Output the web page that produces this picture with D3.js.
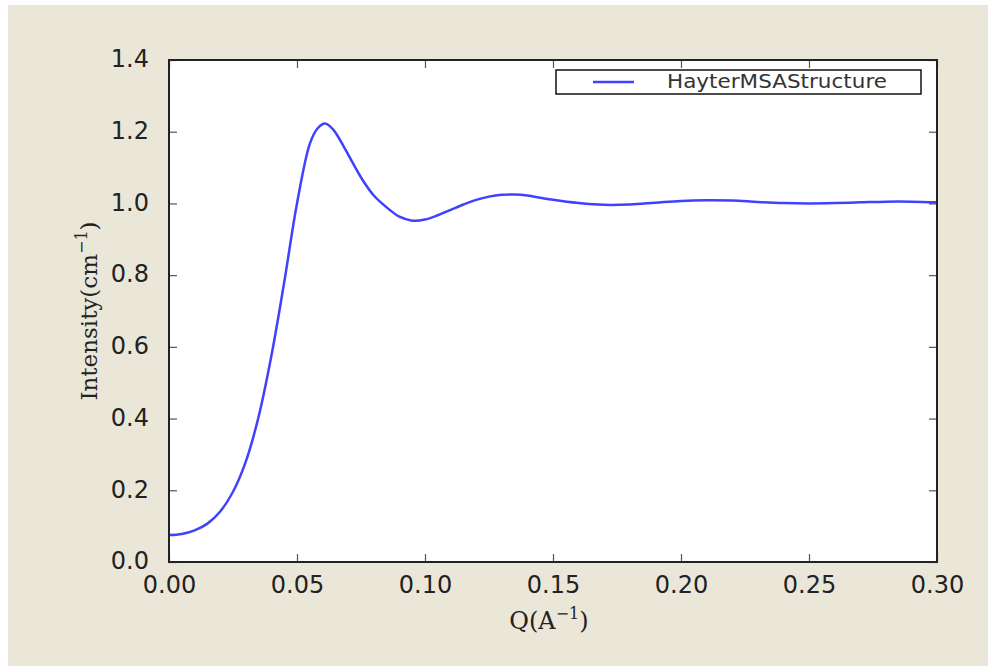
<!DOCTYPE html>
<html>
<head>
<meta charset="utf-8">
<script src="https://cdn.jsdelivr.net/npm/d3@7"></script>
<style>
  html, body { margin: 0; padding: 0; background: #ffffff; }
  svg { display: block; }
</style>
</head>
<body>
<svg id="chart" width="994" height="666"></svg>
<script>
const qValues = [0, 0.005, 0.010, 0.015, 0.020, 0.025, 0.030, 0.035, 0.040, 0.045, 0.050, 0.055, 0.058, 0.061, 0.064, 0.068, 0.072, 0.076, 0.080, 0.085, 0.090, 0.095, 0.100, 0.105, 0.110, 0.115, 0.120, 0.125, 0.130, 0.135, 0.140, 0.145, 0.150, 0.160, 0.170, 0.180, 0.190, 0.200, 0.210, 0.220, 0.230, 0.240, 0.250, 0.260, 0.270, 0.280, 0.290, 0.300];
const intensity = [0.075, 0.078, 0.088, 0.107, 0.141, 0.196, 0.280, 0.405, 0.575, 0.780, 1.000, 1.166, 1.209, 1.223, 1.207, 1.162, 1.110, 1.061, 1.022, 0.989, 0.963, 0.952, 0.955, 0.967, 0.982, 0.997, 1.010, 1.019, 1.024, 1.025, 1.022, 1.016, 1.010, 1.001, 0.996, 0.997, 1.002, 1.007, 1.009, 1.008, 1.004, 1.001, 1.000, 1.001, 1.003, 1.005, 1.005, 1.003];
const xTicks = [0, 0.05, 0.10, 0.15, 0.20, 0.25, 0.30];
const yTicks = [0, 0.2, 0.4, 0.6, 0.8, 1.0, 1.2, 1.4];
const seriesName = "HayterMSAStructure";

const svg = d3.select("#chart");
const plot = { left: 169, top: 60, right: 937, bottom: 562 };

// background
svg.append("rect").attr("x", 8).attr("y", 5).attr("width", 980).attr("height", 661).attr("fill", "#ebe7d8");
svg.append("rect").attr("x", plot.left).attr("y", plot.top)
  .attr("width", plot.right - plot.left).attr("height", plot.bottom - plot.top).attr("fill", "#ffffff");

const x = d3.scaleLinear().domain([0, 0.30]).range([plot.left, plot.right]);
const y = d3.scaleLinear().domain([0, 1.4]).range([plot.bottom, plot.top]);

const tickLen = 8;
const fontSans = "'DejaVu Sans', sans-serif";

const xAxisB = d3.axisBottom(x).tickValues(xTicks).tickFormat(d3.format(".2f")).tickSizeInner(-tickLen).tickSizeOuter(0).tickPadding(14);
const gxb = svg.append("g").attr("transform", `translate(0,${plot.bottom})`).call(xAxisB);
const xAxisT = d3.axisTop(x).tickValues(xTicks).tickFormat("").tickSizeInner(-tickLen).tickSizeOuter(0);
const gxt = svg.append("g").attr("transform", `translate(0,${plot.top})`).call(xAxisT);
const yAxisL = d3.axisLeft(y).tickValues(yTicks).tickFormat(d3.format(".1f")).tickSizeInner(-tickLen).tickSizeOuter(0).tickPadding(20);
const gyl = svg.append("g").attr("transform", `translate(${plot.left},0)`).call(yAxisL);
const yAxisR = d3.axisRight(y).tickValues(yTicks).tickFormat("").tickSizeInner(-tickLen).tickSizeOuter(0);
const gyr = svg.append("g").attr("transform", `translate(${plot.right},0)`).call(yAxisR);

[gxb, gxt, gyl, gyr].forEach(g => {
  g.select(".domain").remove();
  g.selectAll(".tick line").attr("stroke", "#555").attr("stroke-width", 1.2);
  g.selectAll(".tick text").attr("font-family", fontSans).attr("font-size", 24).attr("fill", "#222");
});
gyl.selectAll(".tick text").attr("dy", "0.28em");
gxb.selectAll(".tick text").attr("dy", "0.71em");

// line
const line = d3.line().x((d, i) => x(qValues[i])).y(d => y(d)).curve(d3.curveCatmullRom.alpha(0.5));
svg.append("clipPath").attr("id", "clip").append("rect")
  .attr("x", plot.left).attr("y", plot.top).attr("width", plot.right - plot.left).attr("height", plot.bottom - plot.top);
svg.append("path").datum(intensity).attr("d", line).attr("fill", "none")
  .attr("stroke", "#0000ff").attr("stroke-opacity", 0.75).attr("stroke-width", 2.5)
  .attr("clip-path", "url(#clip)");

// frame
svg.append("rect").attr("x", plot.left).attr("y", plot.top)
  .attr("width", plot.right - plot.left).attr("height", plot.bottom - plot.top)
  .attr("fill", "none").attr("stroke", "#222").attr("stroke-width", 2);

// legend
const lg = svg.append("g");
lg.append("rect").attr("x", 556).attr("y", 70).attr("width", 365).attr("height", 24)
  .attr("fill", "#fff").attr("stroke", "#111").attr("stroke-width", 1.5);
lg.append("line").attr("x1", 593).attr("x2", 634).attr("y1", 82).attr("y2", 82)
  .attr("stroke", "#0000ff").attr("stroke-opacity", 0.75).attr("stroke-width", 2.5);
lg.append("text").attr("x", 667).attr("y", 88).attr("font-family", fontSans).attr("font-size", 19)
  .attr("fill", "#333").attr("textLength", 220).attr("lengthAdjust", "spacingAndGlyphs").text(seriesName);

// axis labels
const serif = "'DejaVu Serif', 'Liberation Serif', serif";
const xl = svg.append("text").attr("x", 549).attr("y", 629)
  .attr("text-anchor", "middle").attr("font-family", serif).attr("font-size", 24).attr("fill", "#222");
xl.append("tspan").text("Q(A");
xl.append("tspan").attr("dy", -10).attr("font-size", 16).text("−1");
xl.append("tspan").attr("dy", 10).text(")");

const yl = svg.append("text").attr("transform", `translate(97,311) rotate(-90)`)
  .attr("text-anchor", "middle").attr("font-family", serif).attr("font-size", 23).attr("fill", "#222");
yl.append("tspan").text("Intensity(cm");
yl.append("tspan").attr("dy", -10).attr("font-size", 16).text("−1");
yl.append("tspan").attr("dy", 10).text(")");
</script>
</body>
</html>
